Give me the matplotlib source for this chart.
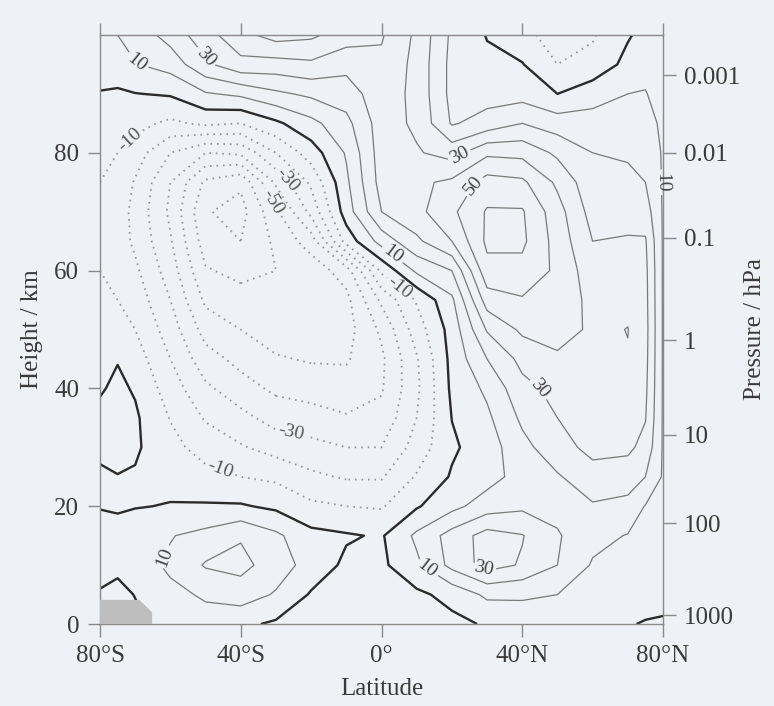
import numpy as np
import matplotlib
matplotlib.use("Agg")
import matplotlib.pyplot as plt
from matplotlib.patches import Polygon

# Grid: latitude (deg, negative = south) and height (km)
latitudes = [-80, -75, -70, -60, -50, -40, -30, -20, -10, 0, 10, 20, 30, 40, 50, 60, 70, 75, 80]
heights_km = [0, 5, 10, 15, 20, 25, 30, 35, 40, 45, 50, 55, 60, 65, 70, 75, 80, 85, 90, 95, 100]

# Zonal-mean zonal wind (m/s), each list runs from 0 km to 100 km
u_80S = [-5, -1, 4, 4, -0.5, -1.5, 2, 2.5, -1, -5, -8, -9, -10, -10.5, -10.5, -10, -7, -4, -0.5, 4, 8]
u_75S = [-4, -2.5, 2, 3, -1, -0.3, 3, 3.5, 2, -0.5, -6, -10, -13, -15, -15, -13, -10, -5, -1, 4, 10]
u_70S = [-2, 0.3, 6, 6, -0.5, -1, 1.5, 1.5, -1, -5, -10, -14, -18, -22, -23, -21, -15, -7, -0.3, 9.5, 14]
u_60S = [3, 8, 11.5, 9.5, 0.5, -3, -7, -10.5, -15, -20, -25, -30, -35, -39, -42, -40, -30, -12, 1, 14, 24]
u_50S = [7, 11, 21, 13, 1, -7, -14, -21, -28, -36, -44, -52, -59, -65, -69, -62, -40, -8, 9, 28, 36]
u_40S = [2, 15, 23, 19, 1, -10, -19, -27, -36, -43, -50, -56, -63, -70, -74, -68, -38, -10, 12, 37, 47]
u_30S = [-1.5, 9, 15, 12, -2, -12, -24, -34, -42, -49, -55, -58, -60, -58, -52, -38, -20, -2, 18, 36, 54]
u_20S = [-4, -1, 6, 3, -8, -18, -27, -36, -44, -51, -56, -58, -56, -45, -27, -18, -5, 7, 22, 38, 52]
u_10S = [-5, -4, -2, 1, -10, -21, -30, -39, -46, -51, -54, -53, -45, -6, 5, 8, 11, 17, 25, 33, 45]
u_EQ = [-5, -4, -2, -1, -11, -21, -30, -37, -41, -42, -38, -28, -8, 14, 30, 34, 35, 35, 36, 38, 41]
u_10N = [-4, -2, 8, 12, -1, -9, -16, -20, -22, -21, -15, -9, 12, 28, 37, 38, 31, 28, 27, 27, 28]
u_20N = [-2.5, 3, 23, 24, 7, 1, -1.5, 0.2, 2, 3, 4, 8, 20, 40, 48, 42, 26, 9, 7, 7, 8]
u_30N = [1, 12, 34, 34, 15, 6, 5, 8, 12, 20, 31, 45, 57, 62, 61, 54, 38, 14, 6, 2, -0.5]
u_40N = [6, 11, 29, 30.5, 18, 14, 17, 22, 27, 33, 42, 49, 57, 62, 61, 52, 37, 20, 6, 0.5, -6]
u_50N = [4, 10, 20, 21, 17, 19, 26, 30, 33, 38, 45, 49, 48, 46, 44, 38, 28, 15, 0, -10, -16]
u_60N = [2, 6, 9, 13, 19, 26, 33, 36, 37, 38, 38, 36, 34, 30, 26, 23, 20, 14, 6, -7, -11]
u_70N = [0.5, 4, 6, 9.5, 17, 25, 32, 36, 38, 39.5, 40.2, 38, 35, 31, 26, 22, 19, 14, 10, 3, -1]
u_75N = [-0.5, 3, 5, 7, 9.5, 20, 27, 30.5, 32, 33, 33.5, 33, 32.5, 31, 25, 20, 17, 14, 10.5, 7, 3]
u_80N = [-1.5, 4, 5, 6.5, 8.5, 9, 9, 9, 9, 9, 9, 9, 9, 9, 9, 9, 9, 8, 6, 5, 4]

wind_columns = [u_80S, u_75S, u_70S, u_60S, u_50S, u_40S, u_30S, u_20S, u_10S, u_EQ,
                u_10N, u_20N, u_30N, u_40N, u_50N, u_60N, u_70N, u_75N, u_80N]

negative_levels = [-70, -60, -50, -40, -30, -20, -10]
positive_levels = [10, 20, 30, 40, 50, 60]

# Antarctic orography in the lower-left corner
orography_lat = [-80, -80, -68.8, -65.2, -65.2]
orography_km = [0, 4.1, 4.1, 2.0, 0]

# Pressure axis: standard heights of the pressure levels
pressure_labels = ["0.001", "0.01", "0.1", "1", "10", "100", "1000"]
pressure_heights_km = [93.2, 80.0, 65.6, 48.2, 32.1, 17.1, 1.5]

lat_ticks = [-80, -40, 0, 40, 80]
lat_tick_labels = ["80°S", "40°S", "0°", "40°N", "80°N"]
height_ticks = [0, 20, 40, 60, 80]

# Contour label anchor points (lat, km)
neg_label_points = [(-71.5, 82.2), (-26.8, 75.5), (-29.6, 72), (5.4, 57.2), (-26, 32), (-46, 26)]
pos_label_points = [(-69.5, 95.4), (-51, 95.8), (2.6, 62.3), (21.6, 80), (28.2, 73.7),
                    (79.0, 75), (46, 40.6), (14, 10.4), (29, 9.2), (-60, 10.9)]

bg = "#eef1f5"
plt.rcParams["font.family"] = ["Liberation Serif", "DejaVu Serif"]

fig = plt.figure(figsize=(7.74, 7.06), dpi=100, facecolor=bg)
ax = fig.add_axes([0.1292, 0.1161, 0.7274, 0.8343], facecolor=bg)

LAT, HGT = np.meshgrid(latitudes, heights_km)
U = np.array(wind_columns).T

cs_neg = ax.contour(LAT, HGT, U, levels=negative_levels, colors="#959595",
                    linewidths=1.3, linestyles=[(0, (0.9, 2.7))])
cs_zero = ax.contour(LAT, HGT, U, levels=[0], colors="#2b2b2b", linewidths=1.7)
cs_pos = ax.contour(LAT, HGT, U, levels=positive_levels, colors="#7a7a7a", linewidths=0.9)

fmt = lambda v: f"{v:.0f}"
lab_neg = ax.clabel(cs_neg, fmt=fmt, fontsize=14, colors="#555555", inline=True,
                    inline_spacing=3, manual=neg_label_points)
lab_pos = ax.clabel(cs_pos, fmt=fmt, fontsize=14, colors="#444444", inline=True,
                    inline_spacing=3, manual=pos_label_points)
for t in list(lab_neg) + list(lab_pos):
    t.set_fontfamily(["Liberation Serif", "DejaVu Serif"])
    t.set_clip_on(False)
    t.set_zorder(5)

ax.add_patch(Polygon(list(zip(orography_lat, orography_km)), closed=True,
                     facecolor="#bebebe", edgecolor="none", zorder=3))

ax.set_xlim(-80, 80)
ax.set_ylim(0, 100)
ax.set_xticks(lat_ticks)
ax.set_xticklabels(lat_tick_labels)
ax.set_yticks(height_ticks)
ax.tick_params(axis="both", direction="out", length=9, width=1.0, color="#8a8a8a",
               labelsize=18, labelcolor="#3a3a3a", pad=6)
ax.tick_params(axis="x", top=True, labeltop=False)
for s in ax.spines.values():
    s.set_color("#8a8a8a")
    s.set_linewidth(1.0)

ax.set_xlabel("Latitude", fontsize=18, color="#3a3a3a", labelpad=8)
ax.set_ylabel("Height / km", fontsize=18, color="#3a3a3a", labelpad=8)

ax2 = ax.twinx()
ax2.set_ylim(0, 100)
ax2.set_yticks(pressure_heights_km)
ax2.set_yticklabels(pressure_labels)
ax2.tick_params(axis="y", direction="out", length=9, width=1.0, color="#8a8a8a",
                labelsize=18, labelcolor="#3a3a3a", pad=6)
for s in ax2.spines.values():
    s.set_visible(False)
ax2.set_ylabel("Pressure / hPa", fontsize=18, color="#3a3a3a", labelpad=3)

fig.savefig("out.png", dpi=100, facecolor=bg)
